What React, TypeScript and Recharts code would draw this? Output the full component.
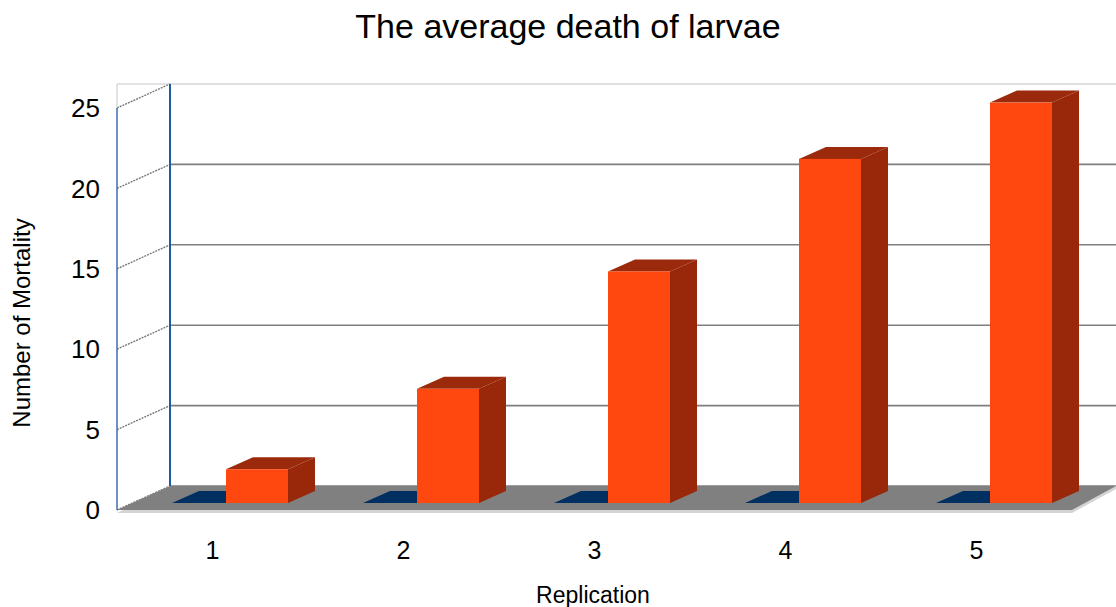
import React from "react";
import { BarChart, Bar, XAxis, YAxis, CartesianGrid, Customized } from "recharts";

const categories = ["1", "2", "3", "4", "5"];
const baseSeries = [0, 0, 0, 0, 0];
const mortality = [2.1, 7.1, 14.4, 21.4, 24.9];
const yTicks = [0, 5, 10, 15, 20, 25];

const data = categories.map((c, i) => ({
  replication: c,
  base: baseSeries[i],
  mortality: mortality[i],
}));

const W = 1116;
const H = 607;
const LEFT = 117;
const RIGHT = 1072;
const TOP = 108;
const BOTTOM = 510;
// oblique offset of the back wall
const DX = 53;
const DY = -24;
// bar front face offset and bar depth
const BX = 13;
const BY = -7;
const BD_X = 27;
const BD_Y = -12;

const FONT = "'Liberation Sans', Arial, Helvetica, sans-serif";

const OrangeBar = (props: any) => {
  const { x, y, width, height } = props;
  const fx = x + BX;
  const fy = y + BY;
  const w = width;
  const h = height;
  return (
    <g>
      <polygon
        points={`${fx},${fy} ${fx + w},${fy} ${fx + w + BD_X},${fy + BD_Y} ${fx + BD_X},${fy + BD_Y}`}
        fill="#9a2a0b"
      />
      <polygon
        points={`${fx + w},${fy} ${fx + w + BD_X},${fy + BD_Y} ${fx + w + BD_X},${fy + h + BD_Y} ${fx + w},${fy + h}`}
        fill="#982809"
      />
      <rect x={fx} y={fy} width={w} height={h} fill="#ff4810" />
    </g>
  );
};

const FlatBar = (props: any) => {
  const { x, y, width } = props;
  const fx = x + BX + 8;
  const fy = y + BY;
  return (
    <polygon
      points={`${fx},${fy} ${fx + width},${fy} ${fx + width + BD_X},${fy + BD_Y} ${fx + BD_X},${fy + BD_Y}`}
      fill="#003062"
    />
  );
};

const Walls = () => (
  <g>
    <polygon
      points={`${LEFT},${BOTTOM + 3} ${RIGHT},${BOTTOM + 3} ${W},${BOTTOM + DY + 3} ${W},${BOTTOM + DY} ${LEFT + DX},${BOTTOM + DY}`}
      fill="#d4d4d4"
    />
    <polygon
      points={`${LEFT},${BOTTOM} ${RIGHT},${BOTTOM} ${W},${BOTTOM + DY} ${LEFT + DX},${BOTTOM + DY}`}
      fill="#808080"
    />
    <line x1={LEFT} y1={TOP + DY} x2={LEFT + DX} y2={TOP + DY} stroke="#c8c8c8" strokeWidth={1} />
    <line x1={LEFT} y1={TOP + DY} x2={LEFT} y2={TOP} stroke="#c8c8c8" strokeWidth={1} />
    <line x1={LEFT} y1={TOP} x2={LEFT} y2={BOTTOM} stroke="#3a6fb0" strokeWidth={1.5} />
    <line x1={LEFT + DX} y1={TOP + DY} x2={LEFT + DX} y2={BOTTOM + DY} stroke="#1c5aa6" strokeWidth={2} />
    <text x={568} y={38} textAnchor="middle" fontSize={34} fontFamily={FONT} fill="#000">
      The average death of larvae
    </text>
    <text
      x={30}
      y={323}
      transform="rotate(-90 30 323)"
      textAnchor="middle"
      fontSize={24}
      fontFamily={FONT}
      fill="#000"
    >
      Number of Mortality
    </text>
    <text x={593} y={603} textAnchor="middle" fontSize={23} fontFamily={FONT} fill="#000">
      Replication
    </text>
  </g>
);

const gridLine = (props: any) => {
  const { x1, y1, x2, index } = props;
  const isTop = Math.abs(y1 - TOP) < 1;
  return (
    <g key={`g-${index}`}>
      <line
        x1={x1 + DX}
        y1={y1 + DY}
        x2={x2 + DX}
        y2={y1 + DY}
        stroke={isTop ? "#c0c0c0" : "#7f7f7f"}
        strokeWidth={isTop ? 1 : 1.6}
      />
      <line
        x1={x1}
        y1={y1}
        x2={x1 + DX}
        y2={y1 + DY}
        stroke="#7a7a7a"
        strokeWidth={1.4}
        strokeDasharray="2 1"
      />
    </g>
  );
};

export default function App() {
  return (
    <div style={{ position: "absolute", left: 0, top: 0, background: "#fff" }}>
      <BarChart
        width={W}
        height={H}
        data={data}
        margin={{ top: TOP, right: W - RIGHT, bottom: 0, left: LEFT - 100 }}
        barGap={0}
        barSize={62}
      >
        <Customized component={<Walls />} />
        <CartesianGrid vertical={false} horizontal={gridLine} />
        <XAxis
          dataKey="replication"
          height={H - BOTTOM}
          axisLine={false}
          tickLine={false}
          tickSize={0}
          tickMargin={31}
          tick={{ fill: "#000", fontSize: 25, fontFamily: FONT }}
        />
        <YAxis
          width={100}
          domain={[0, 25]}
          ticks={yTicks}
          axisLine={false}
          tickLine={false}
          tickSize={0}
          tickMargin={17}
          tick={{ fill: "#000", fontSize: 26, fontFamily: FONT }}
        />
        <Bar dataKey="base" shape={FlatBar} isAnimationActive={false} />
        <Bar dataKey="mortality" shape={OrangeBar} isAnimationActive={false} />
      </BarChart>
    </div>
  );
}
